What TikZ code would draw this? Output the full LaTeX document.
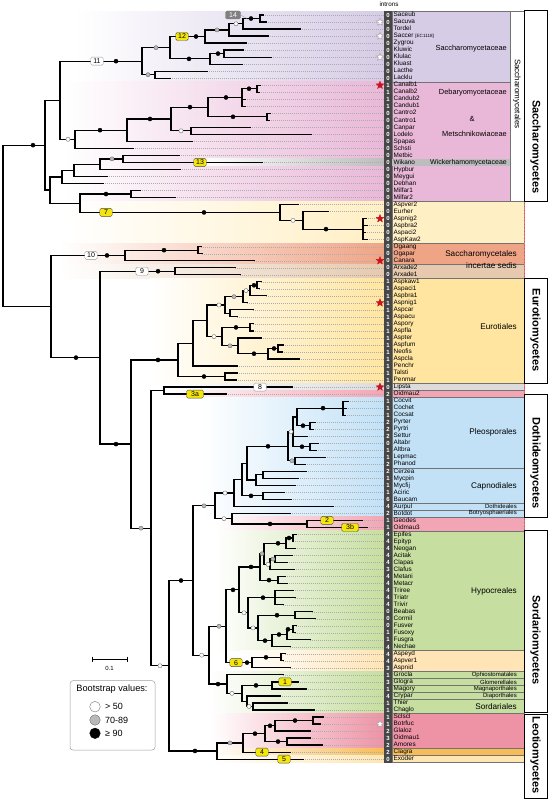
\documentclass[tikz,border=0pt]{standalone}
\usepackage{fontspec}
\setmainfont{Liberation Sans}
\usetikzlibrary{shapes.geometric}
\definecolor{cpur}{HTML}{D6CCE6}
\definecolor{cpink}{HTML}{E9B8D8}
\definecolor{cwik}{HTML}{BDBDBD}
\definecolor{cyel1}{HTML}{FFEFC4}
\definecolor{csal}{HTML}{F0A486}
\definecolor{ctan}{HTML}{E6C9AE}
\definecolor{cyel2}{HTML}{FFE5A0}
\definecolor{cgry}{HTML}{DCDCDC}
\definecolor{crose}{HTML}{F2A5B4}
\definecolor{cblue}{HTML}{C2E1F7}
\definecolor{cgreen}{HTML}{C6DE9F}
\definecolor{corg}{HTML}{FFE4B5}
\definecolor{cleo}{HTML}{EE93A6}
\definecolor{cclag}{HTML}{F7BC58}
\definecolor{cexo}{HTML}{FEE6B3}
\definecolor{cjaune}{HTML}{F4E60C}
\definecolor{cetoile}{HTML}{C8141E}
% row number -> pixel height
\pgfmathdeclarefunction{ry}{1}{\pgfmathparse{15+7.02*(#1-1)}}
\newcommand\kids[2]{\foreach \ch in {#2}{\draw[branch] (#1) |- (\ch);}}
\newcommand\boot[3]{\filldraw[#1] (#2,{ry(#3)}) circle (2.1pt);}
\newcommand\band[4]{\shade[left color=white,right color=#4] (#1,{ry(#2)}) rectangle (384,{ry(#3)});}
\newcommand\caseclade[4]{\filldraw[boite,fill=#4] (392,{ry(#2)}) rectangle (#1,{ry(#3)});}

\begin{document}
\begin{tikzpicture}[x=1pt,y=-1pt]
    \tikzstyle{branch}=[line width=1.2pt, line cap=rect]
    \tikzstyle{guide}=[gray!65, line width=0.3pt, dash pattern=on 1pt off 1pt]
    \tikzstyle{tipname}=[anchor=west, inner sep=0pt, font=\fontsize{6.4}{7}\selectfont, text height=4.7pt, text depth=1.3pt]
    \tikzstyle{introns}=[inner sep=0pt, minimum width=8pt, text=white, font=\bfseries\fontsize{6}{6}\selectfont, text height=4.4pt, text depth=0pt]
    \tikzstyle{jaune}=[draw=black!70, fill=cjaune, rounded corners=1.5pt, inner sep=0.8pt, minimum width=12.5pt, minimum height=8pt, font=\fontsize{7}{7}\selectfont, line width=0.4pt]
    \tikzstyle{blanc}=[jaune, fill=white, draw=gray!80]
    \tikzstyle{grisbox}=[jaune, fill=black!50, draw=black!50, text=white, minimum width=15pt]
    \tikzstyle{boot90}=[fill=black, draw=black, line width=0.3pt]
    \tikzstyle{boot70}=[fill=gray!55, draw=gray!70!black, line width=0.3pt]
    \tikzstyle{boot50}=[fill=white, draw=gray!80!black, line width=0.35pt]
    \tikzstyle{famille}=[anchor=east, inner sep=0pt, font=\fontsize{7.4}{8}\selectfont]
    \tikzstyle{ordre}=[anchor=east, inner sep=0pt, font=\fontsize{8.2}{9}\selectfont]
    \tikzstyle{petit}=[anchor=east, inner sep=0pt, font=\fontsize{6}{6}\selectfont]
    \tikzstyle{classe}=[rotate=-90, inner sep=0pt, font=\bfseries\fontsize{11}{12}\selectfont]
    \tikzstyle{etoile}=[star, star points=5, star point ratio=2.3, minimum size=8pt, inner sep=0pt, line width=0.4pt]
    \tikzstyle{boite}=[draw=black!55, line width=0.35pt]

    \fill[white] (0,0) rectangle (552,800);
    \useasboundingbox (0,0) rectangle (552,800);

    % coloured bands behind the tree
    \band{75}{0.5}{10.5}{cpur}
    \band{65}{10.5}{27.5}{cpink}
    \band{200}{21.5}{22.5}{cwik}
    \band{65}{27.5}{33.5}{cyel1}
    \band{60}{33.5}{36.5}{csal}
    \band{60}{36.5}{38.5}{ctan}
    \band{150}{38.5}{53.5}{cyel2}
    \band{165}{53.5}{54.5}{cgry}
    \band{165}{54.5}{55.5}{crose}
    \band{200}{55.5}{72.5}{cblue}
    \band{215}{72.5}{74.5}{crose}
    \band{215}{74.5}{91.5}{cgreen}
    \band{240}{91.5}{94.5}{corg}
    \band{210}{94.5}{100.5}{cgreen}
    \band{210}{100.5}{105.5}{cleo}
    \band{210}{105.5}{106.5}{cclag}
    \band{210}{106.5}{107.5}{cexo}

    % clade boxes
    \caseclade{510}{0.5}{10.5}{cpur}
    \caseclade{510}{10.5}{27.5}{cpink}
    \fill[cwik] (392,{ry(21.5)}) rectangle (510,{ry(22.5)});
    \caseclade{524}{27.5}{33.5}{cyel1}
    \caseclade{524}{33.5}{36.5}{csal}
    \caseclade{524}{36.5}{38.5}{ctan}
    \caseclade{524}{38.5}{53.5}{cyel2}
    \caseclade{524}{53.5}{54.5}{cgry}
    \caseclade{524}{54.5}{55.5}{crose}
    \caseclade{524}{55.5}{65.5}{cblue}
    \caseclade{524}{65.5}{70.5}{cblue}
    \caseclade{524}{70.5}{71.5}{cblue}
    \caseclade{524}{71.5}{72.5}{cblue}
    \caseclade{524}{72.5}{74.5}{crose}
    \caseclade{524}{74.5}{91.5}{cgreen}
    \caseclade{524}{91.5}{94.5}{corg}
    \caseclade{524}{94.5}{95.5}{cgreen}
    \caseclade{524}{95.5}{96.5}{cgreen}
    \caseclade{524}{96.5}{97.5}{cgreen}
    \caseclade{524}{97.5}{98.5}{cgreen}
    \caseclade{524}{98.5}{100.5}{cgreen}
    \caseclade{524}{100.5}{105.5}{cleo}
    \caseclade{524}{105.5}{106.5}{cclag}
    \caseclade{524}{106.5}{107.5}{cexo}
    \draw[densely dotted, red!60, line width=0.4pt] (524,{ry(27.5)}) -- (524,{ry(38.5)}) (524,{ry(53.5)}) -- (524,{ry(55.5)}) (524,{ry(72.5)}) -- (524,{ry(74.5)});

    % intron column
    \fill[black!72] (384,{ry(0.4)}) rectangle (392,{ry(107.6)});
    \node[inner sep=0pt, font=\fontsize{6.3}{7}\selectfont] (intr) at (389,4.5) {introns};

    % tips: row/name/introns/branch end
    \foreach \k/\nm/\ni/\xe in {1/Saceub/0/263, 2/Sacuva/0/266, 3/Tordel/0/300, 4/{Saccer {\fontsize{4.6}{5}\selectfont[EC1118]}}/0/268,
        5/Zygrou/0/246, 6/Kluwic/0/243, 7/Klulac/0/271, 8/Kluast/0/242, 9/Lacthe/0/207, 10/Lacklu/0/170,
        11/Canalb1/1/260, 12/Canalb2/1/259, 13/Candub2/1/245, 14/Candub1/1/245, 15/Cantro2/0/270, 16/Cantro1/0/269,
        17/Canpar/0/250, 18/Lodelo/0/311, 19/Spapas/0/192, 20/Schsti/0/133, 21/Metbic/0/179, 22/Wikano/0/262,
        23/Hypbur/0/180, 24/Meygui/0/107, 25/Debhan/0/103, 26/Milfar1/0/140, 27/Milfar2/0/175,
        28/Aspver2/0/298, 29/Eurher/0/328, 30/Aspnig2/0/366, 31/Aspbra2/0/367, 32/Aspaci2/0/365, 33/AspKaw2/0/367,
        34/Ogaang/0/201, 35/Ogapar/0/202, 36/Canara/0/254, 37/Arxade2/0/235, 38/Arxade1/0/240,
        39/Aspkaw1/1/261, 40/Aspaci1/1/259, 41/Aspbra1/1/266, 42/Aspnig1/1/247, 43/Aspcar/1/253, 44/Aspacu/1/237,
        45/Aspory/1/253, 46/Aspfla/1/253, 47/Aspter/1/261, 48/Aspfum/1/283, 49/Neofis/1/282, 50/Aspcla/1/299,
        51/Penchr/1/237, 52/Talsti/1/237, 53/Penmar/1/236, 54/Lipsta/0/292, 55/Oidmau2/2/226,
        56/Cocvit/1/348, 57/Cochet/1/346, 58/Cocsat/1/345, 59/Pyrter/2/315, 60/Pyrtri/2/313, 61/Settur/2/307,
        62/Altabr/0/318, 63/Altbra/1/316, 64/Lepmac/1/325, 65/Phanod/2/305, 66/Cerzea/2/306, 67/Mycpin/1/298,
        68/Mycfij/1/295, 69/Aciric/1/284, 70/Baucam/6/291, 71/Aurpul/4/333, 72/Botdot/2/290, 73/Geodes/1/362,
        74/Oidmau3/1/367, 75/Epifes/4/296, 76/Epityp/4/293, 77/Neogan/4/295, 78/Acitak/4/292, 79/Clapas/4/287,
        80/Clafus/3/294, 81/Metani/4/285, 82/Metacr/4/287, 83/Triree/4/293, 84/Triatr/4/295, 85/Trivir/4/283,
        86/Beabas/0/312, 87/Cormil/0/315, 88/Fusver/0/296, 89/Fusoxy/1/295, 90/Fusgra/1/310, 91/Nechae/4/290,
        92/Aspeyd/4/285, 93/Aspver1/4/283, 94/Aspnid/3/290, 95/Grocla/1/283, 96/Glogra/3/298, 97/Magory/1/306,
        98/Crypar/4/280, 99/Thier/1/287, 100/Chaglo/1/314, 101/Sclscl/1/323, 102/Botrfuc/1/320, 103/Glaloz/2/310,
        104/Oidmau1/3/310, 105/Amores/2/322, 106/Clagra/2/290, 107/Exoder/0/303}{
        \coordinate (e\k) at (\xe,{ry(\k)});
        \node[introns] (in\k) at (388,{ry(\k)}) {\ni};
        \node[tipname] (nm\k) at (393.5,{ry(\k)}) {\nm};
        \draw[guide] (e\k) -- (in\k.west);
    }

    % internal nodes
    \coordinate (s1) at (260,{ry(1.5)});
    \coordinate (s2) at (243,{ry(2.25)});
    \coordinate (s3) at (229,{ry(3.125)});
    \coordinate (s4) at (205,{ry(4.0625)});
    \coordinate (s5) at (224,{ry(6.5)});
    \coordinate (s6) at (210,{ry(7.25)});
    \coordinate (s7) at (170,{ry(5.656)});
    \coordinate (s8) at (155,{ry(9.5)});
    \coordinate (s9) at (142,{ry(7.578)});
    \coordinate (c1) at (257,{ry(11.5)});
    \coordinate (c2) at (242,{ry(12.75)});
    \coordinate (c3) at (267,{ry(15.5)});
    \coordinate (c4) at (208,{ry(14.125)});
    \coordinate (c5) at (191,{ry(17.5)});
    \coordinate (c6) at (171,{ry(15.8125)});
    \coordinate (c7) at (127,{ry(17.406)});
    \coordinate (c8) at (75,{ry(18.703)});
    \coordinate (a1) at (60,{ry(13.14)});
    \coordinate (w1) at (123,{ry(21.5)});
    \coordinate (w2) at (100,{ry(22.25)});
    \coordinate (w3) at (74,{ry(23.125)});
    \coordinate (w4) at (62,{ry(24.0625)});
    \coordinate (m1) at (131,{ry(26.5)});
    \coordinate (y1) at (363,{ry(31.5)});
    \coordinate (y2) at (303,{ry(30.25)});
    \coordinate (y3) at (280,{ry(29.125)});
    \coordinate (m2) at (80,{ry(27.8125)});
    \coordinate (b1) at (50,{ry(25.9375)});
    \coordinate (a2) at (45,{ry(19.539)});
    \coordinate (o1) at (198,{ry(34.5)});
    \coordinate (o2) at (125,{ry(35.25)});
    \coordinate (x1) at (175,{ry(37.5)});
    \coordinate (eu1) at (257,{ry(39.5)});
    \coordinate (eu2) at (250,{ry(40.25)});
    \coordinate (eu3) at (243,{ry(41.125)});
    \coordinate (eu4) at (230,{ry(43.5)});
    \coordinate (eu5) at (225,{ry(42.3125)});
    \coordinate (eu6) at (250,{ry(45.5)});
    \coordinate (eu7) at (278,{ry(48.5)});
    \coordinate (eu8) at (268,{ry(49.25)});
    \coordinate (eu9) at (238,{ry(48.125)});
    \coordinate (eu10) at (222,{ry(46.8125)});
    \coordinate (eu11) at (207,{ry(44.5625)});
    \coordinate (eu12) at (193,{ry(47.78)});
    \coordinate (eu13) at (225,{ry(52.5)});
    \coordinate (eu14) at (178,{ry(50.14)});
    \coordinate (l1) at (164,{ry(54.5)});
    \coordinate (p1) at (343,{ry(57)});
    \coordinate (p2) at (310,{ry(59.5)});
    \coordinate (p3) at (297,{ry(58.25)});
    \coordinate (p4) at (310,{ry(62.5)});
    \coordinate (p5) at (293,{ry(60.375)});
    \coordinate (p6) at (295,{ry(64.5)});
    \coordinate (p7) at (288,{ry(62.4375)});
    \coordinate (cp1) at (263,{ry(66.5)});
    \coordinate (cp2) at (256,{ry(67.25)});
    \coordinate (p8) at (247,{ry(64.84)});
    \coordinate (cp3) at (263,{ry(69.5)});
    \coordinate (p9) at (242,{ry(67.17)});
    \coordinate (p10) at (234,{ry(69.09)});
    \coordinate (g1) at (307,{ry(73.5)});
    \coordinate (g2) at (232,{ry(72.75)});
    \coordinate (p11) at (215,{ry(70.92)});
    \coordinate (h1) at (293,{ry(75.5)});
    \coordinate (h2) at (286,{ry(76.25)});
    \coordinate (h3) at (275,{ry(78.5)});
    \coordinate (h4) at (270,{ry(79.25)});
    \coordinate (h5) at (264,{ry(77.75)});
    \coordinate (h6) at (278,{ry(81.5)});
    \coordinate (h7) at (260,{ry(79.625)});
    \coordinate (h8) at (275,{ry(84)});
    \coordinate (h9) at (295,{ry(86.5)});
    \coordinate (h10) at (293,{ry(88.5)});
    \coordinate (h11) at (287,{ry(89.25)});
    \coordinate (h12) at (272,{ry(90.125)});
    \coordinate (h13) at (258,{ry(88.3125)});
    \coordinate (h14) at (248,{ry(86.156)});
    \coordinate (h15) at (239,{ry(82.89)});
    \coordinate (q1) at (281,{ry(92.5)});
    \coordinate (q2) at (252,{ry(93.25)});
    \coordinate (z1) at (226,{ry(88.07)});
    \coordinate (o3) at (272,{ry(96.5)});
    \coordinate (o4) at (253,{ry(99.5)});
    \coordinate (o5) at (247,{ry(98.75)});
    \coordinate (o6) at (242,{ry(97.625)});
    \coordinate (o7) at (227,{ry(96.31)});
    \coordinate (y4) at (209,{ry(92.19)});
    \coordinate (u1) at (193,{ry(81.56)});
    \coordinate (le1) at (313,{ry(101.5)});
    \coordinate (le2) at (275,{ry(102.25)});
    \coordinate (le3) at (287,{ry(104.5)});
    \coordinate (le4) at (265,{ry(103.375)});
    \coordinate (le5) at (243,{ry(104.69)});
    \coordinate (le6) at (217,{ry(105.84)});
    \coordinate (le7) at (169,{ry(93.7)});
    \coordinate (s10) at (151,{ry(74.1)});
    \coordinate (j1) at (131,{ry(62.12)});
    \coordinate (i1) at (100,{ry(49.81)});
    \coordinate (h16) at (51,{ry(42.53)});
    \coordinate (root) at (3,{ry(31.03)});

    % branches
    \kids{s1}{e1,e2}  \kids{s2}{s1,e3}  \kids{s3}{s2,e4}  \kids{s4}{s3,e5}
    \kids{s5}{e6,e7}  \kids{s6}{s5,e8}  \kids{s7}{s4,s6}  \kids{s8}{e9,e10}  \kids{s9}{s7,s8}
    \kids{c1}{e11,e12}  \kids{c2}{c1,e13,e14}  \kids{c3}{e15,e16}  \kids{c4}{c2,c3}
    \kids{c5}{e17,e18}  \kids{c6}{c4,c5}  \kids{c7}{c6,e19}  \kids{c8}{c7,e20}  \kids{a1}{s9,c8}
    \kids{w1}{e21,e22}  \kids{w2}{w1,e23}  \kids{w3}{w2,e24}  \kids{w4}{w3,e25}
    \kids{m1}{e26,e27}  \kids{y1}{e30,e31,e32,e33}  \kids{y2}{e29,y1}  \kids{y3}{e28,y2}
    \kids{m2}{m1,y3}  \kids{b1}{w4,m2}  \kids{a2}{a1,b1}
    \kids{o1}{e34,e35}  \kids{o2}{o1,e36}  \kids{x1}{e37,e38}
    \kids{eu1}{e39,e40}  \kids{eu2}{eu1,e41}  \kids{eu3}{eu2,e42}  \kids{eu4}{e43,e44}  \kids{eu5}{eu3,eu4}
    \kids{eu6}{e45,e46}  \kids{eu7}{e48,e49}  \kids{eu8}{eu7,e50}  \kids{eu9}{e47,eu8}  \kids{eu10}{eu6,eu9}
    \kids{eu11}{eu5,eu10}  \kids{eu12}{eu11,e51}  \kids{eu13}{e52,e53}  \kids{eu14}{eu12,eu13}
    \kids{l1}{e54,e55}
    \kids{p1}{e56,e57,e58}  \kids{p2}{e59,e60}  \kids{p3}{p1,p2}  \kids{p4}{e62,e63}  \kids{p5}{p3,e61,p4}
    \kids{p6}{e64,e65}  \kids{p7}{p5,p6}  \kids{cp1}{e66,e67}  \kids{cp2}{cp1,e68}  \kids{p8}{p7,cp2}
    \kids{cp3}{e69,e70}  \kids{p9}{p8,cp3}  \kids{p10}{p9,e71}  \kids{g1}{e73,e74}  \kids{g2}{e72,g1}  \kids{p11}{p10,g2}
    \kids{h1}{e75,e76}  \kids{h2}{h1,e77}  \kids{h3}{e78,e79}  \kids{h4}{h3,e80}  \kids{h5}{h2,h4}
    \kids{h6}{e81,e82}  \kids{h7}{h5,h6}  \kids{h8}{e83,e84,e85}  \kids{h9}{e86,e87}  \kids{h10}{e88,e89}
    \kids{h11}{h10,e90}  \kids{h12}{h11,e91}  \kids{h13}{h9,h12}  \kids{h14}{h8,h13}  \kids{h15}{h7,h14}
    \kids{q1}{e92,e93}  \kids{q2}{q1,e94}  \kids{z1}{h15,q2}
    \kids{o3}{e96,e97}  \kids{o4}{e99,e100}  \kids{o5}{e98,o4}  \kids{o6}{o3,o5}  \kids{o7}{e95,o6}
    \kids{y4}{z1,o7}  \kids{u1}{p11,y4}
    \kids{le1}{e101,e102}  \kids{le2}{le1,e103}  \kids{le3}{e104,e105}  \kids{le4}{le2,le3}
    \kids{le5}{le4,e106}  \kids{le6}{le5,e107}  \kids{le7}{u1,le6}
    \kids{s10}{l1,le7}  \kids{j1}{eu14,s10}  \kids{i1}{x1,j1}  \kids{h16}{o2,i1}  \kids{root}{a2,h16}

    % bootstrap support
    \boot{boot90}{251}{1.5}  \boot{boot50}{236}{2.25}  \boot{boot70}{217}{3.125}  \boot{boot90}{196}{4.0625}
    \boot{boot90}{218}{6.5}  \boot{boot90}{189}{7.25}  \boot{boot70}{156}{5.656}  \boot{boot70}{148}{9.5}
    \boot{boot90}{116}{7.578}
    \boot{boot90}{249}{11.5}  \boot{boot90}{226}{12.75}  \boot{boot90}{233}{15.5}  \boot{boot50}{181}{17.5}
    \boot{boot90}{190}{14.125}  \boot{boot90}{150}{15.8125}  \boot{boot90}{100}{17.406}  \boot{boot50}{68}{18.703}
    \boot{boot70}{112}{21.5}  \boot{boot90}{106}{26.5}
    \boot{boot90}{204}{29.125}  \boot{boot50}{293}{30.25}  \boot{boot90}{326}{31.5}  \boot{boot90}{33}{19.539}
    \boot{boot90}{107}{35.25}  \boot{boot90}{164}{34.5}  \boot{boot90}{158}{37.5}  \boot{boot90}{76}{49.81}
    \boot{boot90}{116}{62.12}
    \boot{boot90}{158}{50.14}  \boot{boot90}{204}{52.5}  \boot{boot50}{219}{42.3125}  \boot{boot50}{214}{46.8125}
    \boot{boot70}{234}{41.125}  \boot{boot50}{246}{40.25}  \boot{boot90}{254}{39.5}  \boot{boot90}{236}{45.5}
    \boot{boot70}{230}{48.125}  \boot{boot90}{254}{49.25}  \boot{boot90}{274}{48.5}
    \boot{boot70}{141}{74.1}  \boot{boot50}{160}{93.7}
    \boot{boot90}{323}{57}  \boot{boot90}{303}{59.5}  \boot{boot90}{302}{62.5}  \boot{boot50}{291}{60.375}
    \boot{boot70}{292}{64.5}  \boot{boot90}{268}{62.4375}  \boot{boot90}{251}{69.5}  \boot{boot50}{225}{69.09}
    \boot{boot50}{224}{72.75}  \boot{boot90}{270}{73.5}  \boot{boot70}{204}{70.92}
    \boot{boot90}{289}{75.5}  \boot{boot90}{278}{76.25}  \boot{boot70}{273}{78.5}  \boot{boot50}{268}{79.25}
    \boot{boot70}{262}{77.75}  \boot{boot90}{269}{81.5}  \boot{boot90}{251}{79.625}  \boot{boot90}{263}{84}
    \boot{boot90}{277}{86.5}  \boot{boot90}{288}{88.5}  \boot{boot90}{279}{89.25}  \boot{boot90}{265}{90.125}
    \boot{boot50}{253}{88.3125}  \boot{boot50}{244}{86.156}  \boot{boot90}{233}{82.89}  \boot{boot70}{219}{88.07}
    \boot{boot90}{266}{92.5}  \boot{boot90}{247}{93.25}  \boot{boot90}{256}{96.5}  \boot{boot50}{249}{99.5}
    \boot{boot50}{232}{97.625}  \boot{boot90}{218}{96.31}  \boot{boot50}{201.7}{92.19}  \boot{boot90}{181}{81.56}
    \boot{boot90}{295}{101.5}  \boot{boot90}{270}{102.25}  \boot{boot90}{278}{104.5}  \boot{boot90}{255}{103.375}
    \boot{boot70}{230}{104.69}  \boot{boot90}{195}{105.84}

    % numbered events on branches
    \node[blanc] (lb11) at (97,{ry(7.578)}) {11};
    \node[jaune] (lb12) at (182,{ry(4.0625)}) {12};
    \node[jaune] (lb13) at (200,{ry(22)}) {13};
    \node[grisbox] (lb14) at (233,15) {14};
    \coordinate (d14) at (247,18.5);
    \draw[gray!70, line width=0.4pt] (lb14.east) -- (d14);
    \node[jaune] (lb7) at (106,{ry(29.125)}) {7};
    \node[blanc] (lb10) at (91,{ry(35.25)}) {10};
    \node[blanc] (lb9) at (142,{ry(37.5)}) {9};
    \node[blanc] (lb8) at (260,{ry(54)}) {8};
    \node[jaune, minimum width=17pt] (lb3a) at (195,{ry(55)}) {3a};
    \node[jaune] (lb2) at (327,{ry(73)}) {2};
    \node[jaune, minimum width=17pt] (lb3b) at (350,{ry(74)}) {3b};
    \node[jaune] (lb6) at (236,{ry(93.25)}) {6};
    \node[jaune] (lb1) at (285,{ry(96)}) {1};
    \node[jaune] (lb4) at (262,{ry(106)}) {4};
    \node[jaune] (lb5) at (284,{ry(107)}) {5};

    % stars beside the tip names
    \foreach \k in {2,4,7,102}{
        \node[etoile, fill=white, draw=gray!80] (st\k) at (380,{ry(\k)}) {};
    }
    \foreach \k in {11,30,36,42,54}{
        \node[etoile, fill=cetoile, draw=cetoile] (st\k) at (380,{ry(\k)}) {};
    }

    % clade names
    \node[famille] (fSac) at (507,49) {Saccharomycetaceae};
    \node[famille] (fDeb) at (507,93) {Debaryomycetaceae};
    \node[famille, anchor=center] (fEt) at (472,119) {\&};
    \node[famille] (fMet) at (507,134) {Metschnikowiaceae};
    \node[famille, font=\fontsize{7}{7}\selectfont] (fWic) at (507,{ry(22)}) {Wickerhamomycetaceae};
    \node[ordre] (oInc1) at (517,254) {Saccharomycetales};
    \node[ordre] (oInc2) at (517,266) {incertae sedis};
    \node[ordre] (oEur) at (517,327) {Eurotiales};
    \node[ordre] (oPle) at (517,432.5) {Pleosporales};
    \node[ordre] (oCap) at (517,486) {Capnodiales};
    \node[petit] (oDot) at (517,{ry(71)}) {Dothideales};
    \node[petit] (oBot) at (517,{ry(72)}) {Botryosphaeriales};
    \node[ordre] (oHyp) at (517,591) {Hypocreales};
    \node[petit] (oOph) at (517,{ry(95)}) {Ophiostomatales};
    \node[petit] (oGlo) at (517,{ry(96)}) {Glomerellales};
    \node[petit] (oMag) at (517,{ry(97)}) {Magnaporthales};
    \node[petit] (oDia) at (517,{ry(98)}) {Diaporthales};
    \node[ordre] (oSor) at (517,{ry(99.5)}) {Sordariales};

    % order and class boxes
    \draw[boite, fill=white] (510,{ry(0.5)}) rectangle (524,{ry(27.5)});
    \node[rotate=-90, inner sep=0pt, font=\fontsize{8}{8}\selectfont] (oSac) at (517,94) {Saccharomycetales};
    \draw[black, line width=0.5pt, fill=white] (524,10) rectangle (547,{ry(27.5)});
    \draw[black, line width=0.5pt, fill=white] (524,{ry(38.5)}) rectangle (547,{ry(53.5)});
    \draw[black, line width=0.5pt, fill=white] (524,394) rectangle (547,517);
    \draw[black, line width=0.5pt, fill=white] (524,530) rectangle (547,712);
    \draw[black, line width=0.5pt, fill=white] (524,714) rectangle (547,798);
    \node[classe] (kSac) at (535.5,147) {Saccharomycetes};
    \node[classe] (kEur) at (535.5,330) {Eurotiomycetes};
    \node[classe] (kDot) at (535.5,463) {Dothideomycetes};
    \node[classe] (kSor) at (535.5,640) {Sordariomycetes};
    \node[classe] (kLeo) at (535.5,755) {Leotiomycetes};

    % scale bar
    \draw[line width=0.5pt] (92,656.5) -- (92,662) (92,659.3) -- (127,659.3) (127,656.5) -- (127,662);
    \node[inner sep=0pt, font=\fontsize{6}{6}\selectfont] (scale) at (109.5,668) {0.1};

    % legend
    \draw[rounded corners=3pt, draw=gray!75, line width=0.5pt, fill=white] (70,680.7) rectangle (155,750);
    \node[inner sep=0pt, font=\fontsize{9.2}{10}\selectfont] (legT) at (112,689.5) {Bootstrap values:};
    \filldraw[boot50] (95,706.7) circle (5.3pt);
    \filldraw[boot70] (95,720) circle (5.3pt);
    \filldraw[boot90] (95,733.3) circle (5.3pt);
    \node[anchor=west, inner sep=0pt, font=\fontsize{9}{10}\selectfont] (leg50) at (105,706.7) {> 50};
    \node[anchor=west, inner sep=0pt, font=\fontsize{9}{10}\selectfont] (leg70) at (105,720) {70-89};
    \node[anchor=west, inner sep=0pt, font=\fontsize{9}{10}\selectfont] (leg90) at (105,733.3) {≥ 90};
\end{tikzpicture}
\end{document}
